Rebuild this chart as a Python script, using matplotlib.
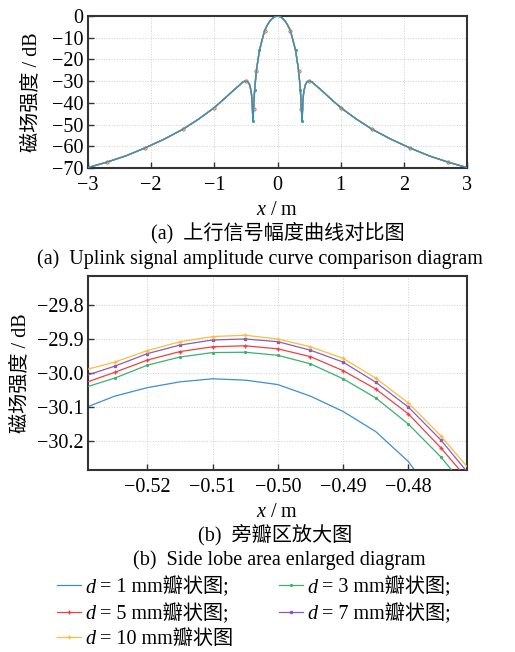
import matplotlib
matplotlib.use("Agg")
import matplotlib.pyplot as plt
from matplotlib.ticker import FuncFormatter

plt.rcParams['font.family'] = ['Liberation Serif', 'Noto Sans CJK SC']
plt.rcParams['mathtext.fontset'] = 'custom'
plt.rcParams['mathtext.rm'] = 'Liberation Serif'
plt.rcParams['mathtext.it'] = 'Liberation Serif:italic'
plt.rcParams['font.size'] = 14.5
plt.rcParams['axes.unicode_minus'] = True

# ---- (a) full range, x in m, field strength in dB (all sizes overlap here)
x_full = [-3.0, -2.7, -2.4, -2.1, -1.8, -1.5, -1.25, -1.0, -0.8, -0.7, -0.6, -0.55,
          -0.505, -0.47, -0.44, -0.415, -0.40, -0.39, -0.378, -0.362, -0.335, -0.285,
          -0.205, -0.15, -0.10, -0.05, 0.0,
          0.05, 0.10, 0.15, 0.205, 0.285, 0.335, 0.362, 0.378, 0.39, 0.40, 0.415,
          0.44, 0.47, 0.505, 0.55, 0.6, 0.7, 0.8, 1.0, 1.25, 1.5, 1.8, 2.1, 2.4, 2.7, 3.0]
y_full = [-69.8, -67.3, -64.4, -60.8, -56.8, -52.2, -47.5, -42.2, -37.0, -34.3, -31.8, -30.4,
          -29.9, -30.2, -31.8, -35.0, -40.0, -48.5, -43.0, -34.0, -25.2, -15.7,
          -6.75, -3.6, -1.6, -0.4, 0.0,
          -0.4, -1.6, -3.6, -6.75, -15.7, -25.2, -34.0, -43.0, -48.5, -40.0, -35.0,
          -31.8, -30.2, -29.9, -30.4, -31.8, -34.3, -37.0, -42.2, -47.5, -52.2, -56.8,
          -60.8, -64.4, -67.3, -69.8]

# ---- (b) side lobe zoom
x_zoom = [-0.529, -0.525, -0.520, -0.515, -0.510, -0.505, -0.500, -0.495, -0.490,
          -0.485, -0.480, -0.475, -0.471]
d1 = [-30.098, -30.068, -30.043, -30.026, -30.017, -30.021, -30.034, -30.068, -30.113,
      -30.172, -30.260, -30.390, -30.480]
d3 = [-30.039, -30.015, -29.977, -29.953, -29.940, -29.939, -29.948, -29.973, -30.017,
      -30.073, -30.150, -30.247, -30.340]
d5 = [-30.025, -29.998, -29.962, -29.937, -29.923, -29.920, -29.929, -29.952, -29.993,
      -30.047, -30.120, -30.220, -30.310]
d7 = [-30.005, -29.980, -29.943, -29.918, -29.903, -29.900, -29.908, -29.933, -29.968,
      -30.027, -30.100, -30.197, -30.290]
d10 = [-29.988, -29.968, -29.934, -29.908, -29.893, -29.889, -29.900, -29.923, -29.957,
       -30.015, -30.088, -30.185, -30.275]

names = ['= 1 mm瓣状图;', '= 3 mm瓣状图;', '= 5 mm瓣状图;', '= 7 mm瓣状图;', '= 10 mm瓣状图']
colors = ['#3d8ed0', '#3cb06e', '#ef4045', '#8a5bbd', '#fcbc3c']
markers = [None, '.', '+', 's', '+']
msizes = [0, 2.6, 2.6, 1.8, 2.6]
zoom_data = [d1, d3, d5, d7, d10]


def minus(fmt):
    return FuncFormatter(lambda v, p: (fmt % v).replace('-', '\u2212'))


def style_axes(ax):
    for s in ax.spines.values():
        s.set_color('#333333')
        s.set_linewidth(1.5)
    ax.grid(True, color='#cfcfcf', linestyle=':', linewidth=0.7)
    ax.tick_params(direction='in', length=4, width=1, color='#333333', pad=3.5)
    ax.tick_params(axis='x', pad=5.5)


fig = plt.figure(figsize=(5.15, 6.52), dpi=100)
ax1 = fig.add_axes([88 / 515, 1 - 168 / 652, 379 / 515, 152 / 652])
ax2 = fig.add_axes([88 / 515, 1 - 470 / 652, 379 / 515, 194 / 652])

# top panel: all curves overlap, blue drawn on top
mk_a = [1, 3, 5, 7, 12, 18, 20, 22, 30, 32, 34, 40, 45, 47, 49, 51]
mk_b = [1, 3, 5, 7, 12, 17, 19, 21, 31, 33, 35, 40, 45, 47, 49, 51]
for i in [1, 2, 3, 4]:
    ax1.plot(x_full, y_full, color=colors[i], lw=0.9, marker=markers[i], ms=msizes[i],
             markevery=(mk_b if i == 1 else mk_a), zorder=2)
ax1.plot(x_full, y_full, color='#3391bf', lw=1.0, zorder=3)
ax1.set_xlim(-3, 3)
ax1.set_ylim(-70, 0)
ax1.set_xticks([-3, -2, -1, 0, 1, 2, 3])
ax1.set_yticks([0, -10, -20, -30, -40, -50, -60, -70])
ax1.xaxis.set_major_formatter(minus('%d'))
ax1.yaxis.set_major_formatter(minus('%d'))
style_axes(ax1)
ax1.set_ylabel('磁场强度 / dB')
ax1.yaxis.set_label_coords(-0.123, 0.5)
ax1.set_xlabel(r'$x$ / m')
ax1.xaxis.set_label_coords(0.5, -0.215)

# bottom panel
lines = []
for i in range(5):
    ln, = ax2.plot(x_zoom, zoom_data[i], color=colors[i], lw=0.9, marker=markers[i],
                   ms=msizes[i], markevery=slice(1, -1), zorder=2 + i)
    lines.append(ln)
ax2.set_xlim(-0.5291, -0.471)
ax2.set_ylim(-30.285, -29.715)
ax2.set_xticks([-0.52, -0.51, -0.50, -0.49, -0.48])
ax2.set_yticks([-29.8, -29.9, -30.0, -30.1, -30.2])
ax2.xaxis.set_major_formatter(minus('%.2f'))
ax2.yaxis.set_major_formatter(minus('%.1f'))
style_axes(ax2)
ax2.set_ylabel('磁场强度 / dB')
ax2.yaxis.set_label_coords(-0.152, 0.5)
ax2.set_xlabel(r'$x$ / m')
ax2.xaxis.set_label_coords(0.5, -0.17)

# captions
fig.text(277.5 / 515, 1 - 233 / 652, '(a)  上行信号幅度曲线对比图', ha='center', va='center')
fig.text(260 / 515, 1 - 259 / 652, '(a)  Uplink signal amplitude curve comparison diagram',
         ha='center', va='center')
fig.text(275 / 515, 1 - 535 / 652, '(b)  旁瓣区放大图', ha='center', va='center')
fig.text(279 / 515, 1 - 560 / 652, '(b)  Side lobe area enlarged diagram',
         ha='center', va='center')

order = [0, 2, 4, 1, 3]
leg = fig.legend([lines[i] for i in order], [names[i] for i in order], ncol=2,
                 loc='upper left', bbox_to_anchor=(57 / 515, 1 - 577 / 652),
                 frameon=False, handlelength=1.2, handletextpad=0.95, columnspacing=2.25,
                 labelspacing=0.3, borderpad=0, borderaxespad=0)

fig.canvas.draw()
for t in leg.get_texts():
    ax2.annotate('d', xy=(0, 0), xycoords=t, xytext=(-3.5, 0), textcoords='offset points',
                 ha='right', va='bottom', style='italic', annotation_clip=False)

fig.savefig('out.png', dpi=100)
